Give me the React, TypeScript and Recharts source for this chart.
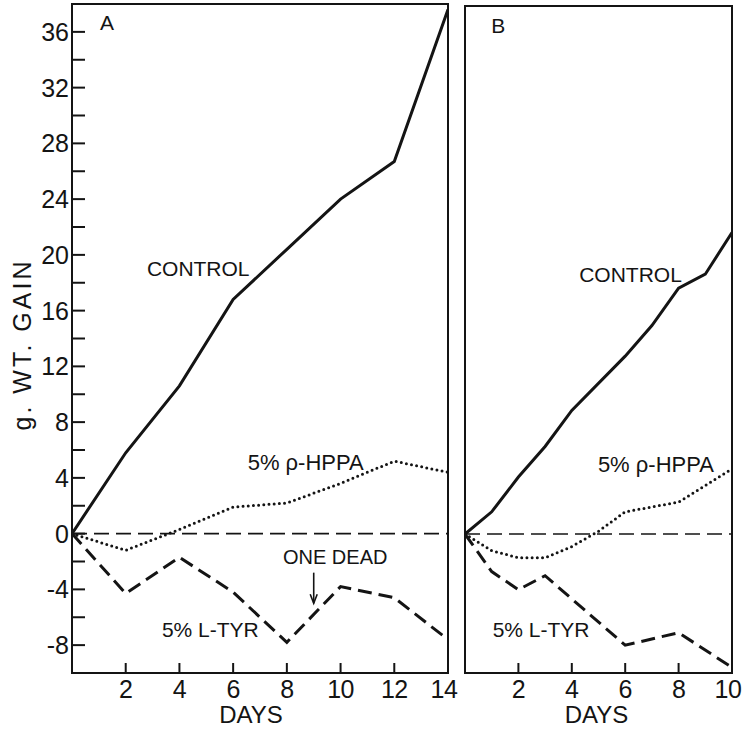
import React from 'react';
import { LineChart, Line, XAxis, YAxis, ReferenceLine, ReferenceArea, ReferenceDot } from 'recharts';

// Panel A
const daysA = [0, 2, 4, 6, 8, 10, 12, 14];
const controlA = [0, 5.8, 10.6, 16.8, 20.4, 24.0, 26.7, 37.6];
const hppaA = [0, -1.2, 0.3, 1.9, 2.2, 3.6, 5.2, 4.4];
const tyrA = [0, -4.3, -1.7, -4.2, -7.8, -3.8, -4.6, -7.6];

// Panel B
const daysB = [0, 1, 2, 3, 4, 5, 6, 7, 8, 9, 10];
const controlB = [0, 1.6, 4.1, 6.3, 8.9, null, 12.8, 15.0, 17.7, 18.7, 21.7];
const hppaB = [0, -1.2, -1.7, -1.7, -0.9, 0.2, 1.6, null, 2.3, null, 4.7];
const tyrB = [0, -2.7, -4.0, -3.0, null, null, -8.0, null, -7.1, null, -9.6];

// Axes
const yDomain = [-10, 38];
const yTicks = [-8, -6, -4, -2, 0, 2, 4, 6, 8, 10, 12, 14, 16, 18, 20, 22, 24, 26, 28, 30, 32, 34, 36];
const xTicksA = [2, 4, 6, 8, 10, 12, 14];
const xTicksB = [2, 4, 6, 8, 10];
const yTitle = 'g. WT. GAIN';
const xTitle = 'DAYS';

// Annotations (text, day, value)
const notesA = [
  { text: 'A', day: 1.3, value: 36.7, size: 21 },
  { text: 'CONTROL', day: 4.7, value: 19.0, size: 21 },
  { text: '5% ρ-HPPA', day: 8.7, value: 5.1, size: 22 },
  { text: 'ONE DEAD', day: 9.8, value: -1.7, size: 20 },
  { text: '5% L-TYR', day: 5.15, value: -6.9, size: 21 },
];
const notesB = [
  { text: 'B', day: 1.25, value: 36.6, size: 21 },
  { text: 'CONTROL', day: 6.2, value: 18.7, size: 21 },
  { text: '5% ρ-HPPA', day: 7.15, value: 5.0, size: 22 },
  { text: '5% L-TYR', day: 2.85, value: -6.9, size: 21 },
];
const deadArrow = { day: 9, from: -2.8, to: -5.0 };

const FONT = '"Liberation Sans", Arial, sans-serif';
const INK = '#141414';

const rowsA = daysA.map((d, i) => ({ day: d, control: controlA[i], hppa: hppaA[i], tyr: tyrA[i] }));
const rowsB = daysB.map((d, i) => ({ day: d, control: controlB[i], hppa: hppaB[i], tyr: tyrB[i] }));

const makeYTick = (showLabel: boolean) => (props: any) => {
  const { x, y, payload } = props;
  const v = payload.value;
  return (
    <g>
      <line x1={x} x2={x + 13} y1={y} y2={y} stroke={INK} strokeWidth={2} />
      {showLabel && v % 4 === 0 ? (
        <text x={x - 3} y={y + 9} textAnchor="end" fontSize={25} fontFamily={FONT} fill={INK}>
          {v}
        </text>
      ) : null}
    </g>
  );
};

const makeXTick = (lastValue: number) => (props: any) => {
  const { x, y, payload } = props;
  const shift = payload.value === lastValue ? -4 : 0;
  return (
    <g>
      <line x1={x} x2={x} y1={y} y2={y - 10} stroke={INK} strokeWidth={2} />
      <text x={x + shift} y={y + 25} textAnchor="middle" fontSize={25} letterSpacing={-0.5} fontFamily={FONT} fill={INK}>
        {payload.value}
      </text>
    </g>
  );
};

const noteShape = (text: string, size: number) => (p: any) => (
  <text
    x={p.cx}
    y={p.cy}
    textAnchor="middle"
    dominantBaseline="central"
    fontSize={size}
    fontFamily={FONT}
    fill={INK}
  >
    {text}
  </text>
);

const arrowHead = (p: any) => (
  <path
    d={`M${p.cx - 3.5},${p.cy - 9} L${p.cx},${p.cy} L${p.cx + 3.5},${p.cy - 9}`}
    fill="none"
    stroke={INK}
    strokeWidth={1.6}
  />
);

const xTitleLabel = (dx: number) => ({
  value: xTitle,
  content: (props: any) => {
    const vb = props.viewBox || {};
    return (
      <text
        x={vb.x + vb.width / 2 + dx}
        y={vb.y + 50}
        textAnchor="middle"
        fontSize={24}
        fontFamily={FONT}
        fill={INK}
      >
        {xTitle}
      </text>
    );
  },
});

const yTitleLabel = {
  value: yTitle,
  content: (props: any) => {
    const vb = props.viewBox || {};
    const cx = vb.x + 22;
    const cy = vb.y + vb.height / 2 + 6;
    return (
      <text
        x={cx}
        y={cy}
        transform={`rotate(-90, ${cx}, ${cy})`}
        textAnchor="middle"
        dominantBaseline="central"
        fontSize={25}
        letterSpacing={3}
        fontFamily={FONT}
        fill={INK}
      >
        {yTitle}
      </text>
    );
  },
};

export default function App() {
  return (
    <div
      style={{
        position: 'absolute',
        left: 0,
        top: 0,
        width: 743,
        height: 729,
        background: '#fff',
        overflow: 'hidden',
      }}
    >
      <div style={{ position: 'absolute', left: 0, top: 0 }}>
        <LineChart width={472} height={729} data={rowsA} margin={{ top: 4, right: 24, bottom: 0, left: 0 }}>
          <XAxis
            dataKey="day"
            type="number"
            domain={[0, 14]}
            ticks={xTicksA}
            allowDataOverflow
            axisLine={false}
            tickLine={false}
            tickSize={0}
            tickMargin={0}
            height={56}
            tick={makeXTick(14)}
            interval={0}
            label={xTitleLabel(-9)}
          />
          <YAxis
            type="number"
            domain={yDomain}
            ticks={yTicks}
            allowDataOverflow
            axisLine={false}
            tickLine={false}
            tickSize={0}
            tickMargin={0}
            width={72}
            tick={makeYTick(true)}
            interval={0}
            label={yTitleLabel}
          />
          <ReferenceArea x1={0} x2={14} y1={-10} y2={38} fill="none" fillOpacity={0} stroke={INK} strokeWidth={2} ifOverflow="visible" />
          <ReferenceLine y={0} stroke={INK} strokeWidth={1.6} strokeDasharray="15 7" />
          <Line type="linear" dataKey="control" stroke={INK} strokeWidth={3} dot={false} activeDot={false} isAnimationActive={false} connectNulls />
          <Line type="linear" dataKey="hppa" stroke={INK} strokeWidth={3} strokeLinecap="round" strokeDasharray="0 5.2" dot={false} activeDot={false} isAnimationActive={false} connectNulls />
          <Line type="linear" dataKey="tyr" stroke={INK} strokeWidth={3} strokeDasharray="14 7" dot={false} activeDot={false} isAnimationActive={false} connectNulls />
          <ReferenceLine
            segment={[
              { x: deadArrow.day, y: deadArrow.from },
              { x: deadArrow.day, y: deadArrow.to },
            ]}
            stroke={INK}
            strokeWidth={1.6}
          />
          <ReferenceDot x={deadArrow.day} y={deadArrow.to} r={0} shape={arrowHead} />
          {notesA.map((n) => (
            <ReferenceDot key={n.text} x={n.day} y={n.value} r={0} shape={noteShape(n.text, n.size)} />
          ))}
        </LineChart>
      </div>
      <div style={{ position: 'absolute', left: 460, top: 2 }}>
        <LineChart width={283} height={727} data={rowsB} margin={{ top: 4, right: 11, bottom: 0, left: 5 }}>
          <XAxis
            dataKey="day"
            type="number"
            domain={[0, 10]}
            ticks={xTicksB}
            allowDataOverflow
            axisLine={false}
            tickLine={false}
            tickSize={0}
            tickMargin={0}
            height={56}
            tick={makeXTick(10)}
            interval={0}
            label={xTitleLabel(-2)}
          />
          <YAxis
            type="number"
            domain={yDomain}
            ticks={yTicks}
            allowDataOverflow
            axisLine={false}
            tickLine={false}
            tickSize={0}
            tickMargin={0}
            width={0}
            tick={makeYTick(false)}
            interval={0}
          />
          <ReferenceArea x1={0} x2={10} y1={-10} y2={38} fill="none" fillOpacity={0} stroke={INK} strokeWidth={2} ifOverflow="visible" />
          <ReferenceLine y={0} stroke={INK} strokeWidth={1.6} strokeDasharray="15 7" />
          <Line type="linear" dataKey="control" stroke={INK} strokeWidth={3} dot={false} activeDot={false} isAnimationActive={false} connectNulls />
          <Line type="linear" dataKey="hppa" stroke={INK} strokeWidth={3} strokeLinecap="round" strokeDasharray="0 5.2" dot={false} activeDot={false} isAnimationActive={false} connectNulls />
          <Line type="linear" dataKey="tyr" stroke={INK} strokeWidth={3} strokeDasharray="14 7" dot={false} activeDot={false} isAnimationActive={false} connectNulls />
          {notesB.map((n) => (
            <ReferenceDot key={n.text} x={n.day} y={n.value} r={0} shape={noteShape(n.text, n.size)} />
          ))}
        </LineChart>
      </div>
    </div>
  );
}
